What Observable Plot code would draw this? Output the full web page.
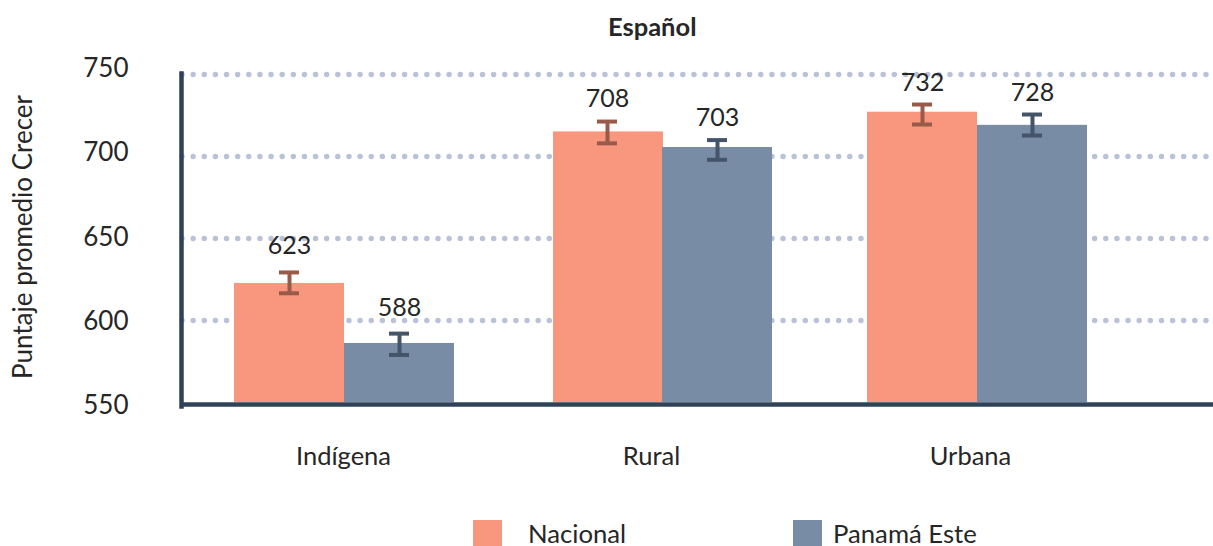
<!DOCTYPE html>
<html><head><meta charset="utf-8">
<script src="https://cdn.jsdelivr.net/npm/d3@7"></script>
<script src="https://cdn.jsdelivr.net/npm/@observablehq/plot@0.6"></script>
<style>
html,body{margin:0;padding:0;background:#fff;overflow:hidden;width:1213px;height:546px;font-family:Lato,sans-serif;color:#262626}
#title{height:52px;line-height:52px;font-weight:700;font-size:25.5px;position:relative}
#title span{position:absolute;left:608px}
#legend{position:relative;height:26px;margin-top:8px;font-size:25.7px}
#legend i{position:absolute;top:0;width:29px;height:26px}
#legend span{position:absolute;top:0;line-height:26px}
svg{display:block}
</style></head><body>
<div id="title"><span>Español</span></div>
<div id="chart"></div>
<div id="legend"></div>
<script>
const groups = ["Indígena", "Rural", "Urbana"];
const series = ["Nacional", "Panamá Este"];
const barNacional = [622.6, 715, 727];
const barPanama = [586, 705.5, 719];
const labelNacional = [623, 708, 732];
const labelPanama = [588, 703, 728];
const hiNacional = [629.3, 721.3, 731.7];
const loNacional = [616.6, 708, 719.5];
const hiPanama = [592, 710, 725.6];
const loPanama = [579, 698, 712.8];
const yTicks = [550, 600, 650, 700, 750];
const colors = ["#f8977d", "#788ca5"];
const errColors = ["#9a5a4a", "#445469"];

const rows = (bar, label, hi, lo) => groups.map((g, i) => ({g, bar: bar[i], label: label[i], hi: hi[i], lo: lo[i]}));
const tables = [rows(barNacional, labelNacional, hiNacional, loNacional), rows(barPanama, labelPanama, hiPanama, loPanama)];

const band = 316.5, barW = 110, cap = 20;
const groupShift = {"Indígena": 0, "Rural": 1.5, "Urbana": 0};
const barShift = [{"Indígena": 0, "Rural": 2.5, "Urbana": 0}, {"Indígena": 0, "Rural": 1.5, "Urbana": 0}];
const tickShift = {"Indígena": -1, "Rural": -9.5, "Urbana": -7};
const yLabelShift = {750: -6, 700: -4, 650: -1, 600: 1, 550: 3};
const labelShift = {"Indígena": -26, "Rural": -22.5, "Urbana": -22};

const marks = [
  Plot.ruleY(yTicks.slice(1), {stroke: "#bac2d8", strokeWidth: 5.5, strokeDasharray: "0 11.13", strokeLinecap: "round"})
];
tables.forEach((t, s) => {
  const sign = s === 0 ? -1 : 1;
  const near = (band - 2 * barW) / 2;
  const far = near + barW;
  const capCentre = band / 2 + sign * barW / 2;
  groups.forEach(g => {
    const d = t.filter(r => r.g === g);
    const dx = groupShift[g];
    marks.push(
      Plot.barY(d, {x: "g", y1: 550, y2: "bar", fill: colors[s], dx: barShift[s][g],
        insetLeft: s === 0 ? near : far, insetRight: s === 0 ? far : near}),
      Plot.ruleX(d, {x: "g", y1: "lo", y2: "hi", stroke: errColors[s], strokeWidth: 4, dx: dx + sign * barW / 2}),
      ...["lo", "hi"].map(k => Plot.tickY(d, {x: "g", y: k, stroke: errColors[s], strokeWidth: 4, dx,
        insetLeft: capCentre - cap / 2, insetRight: band - capCentre - cap / 2})),
      Plot.text(d, {x: "g", y: "hi", text: "label", dx: dx + sign * barW / 2, dy: labelShift[g],
        fontSize: 25, fill: "#262626", fontFamily: "Lato"})
    );
  });
});
marks.push(
  Plot.ruleY([550], {stroke: "#2f4257", strokeWidth: 4.5, dy: 2}),
  Plot.frame({anchor: "left", stroke: "#2f4257", strokeWidth: 4.5, dx: -1}),
  ...yTicks.map(v => Plot.axisY([v], {anchor: "left", tickSize: 0, tickPadding: 54, dy: yLabelShift[v],
    fontSize: 26, label: null, fill: "#262626"})),
  ...groups.map(g => Plot.axisX([g], {anchor: "bottom", tickSize: 0, tickPadding: 40, dx: tickShift[g],
    fontSize: 25.5, label: null, fill: "#262626"})),
  Plot.text(["Puntaje promedio Crecer"], {frameAnchor: "left", textAnchor: "middle", rotate: -90, dx: -159, dy: -3, fontSize: 26, fill: "#262626", fontFamily: "Lato"})
);

const plot = Plot.plot({
  width: 1213, height: 460,
  marginLeft: 182, marginRight: 0, marginTop: 21, marginBottom: 106,
  style: {fontFamily: "Lato", background: "transparent", overflow: "visible"},
  x: {type: "band", domain: groups, range: [344 - band / 2, 344 - band / 2 + 3 * band], padding: 0, round: false, axis: null},
  y: {domain: [550, 750], range: [350, 22], axis: null},
  marks
});
document.getElementById("chart").append(plot);

const lg = document.getElementById("legend");
[[473, 528], [793, 833]].forEach(([a, b], i) => {
  const sw = document.createElement("i");
  sw.style.left = a + "px"; sw.style.background = colors[i];
  const tx = document.createElement("span");
  tx.style.left = b + "px"; tx.textContent = series[i];
  lg.append(sw, tx);
});
</script>
</body></html>
